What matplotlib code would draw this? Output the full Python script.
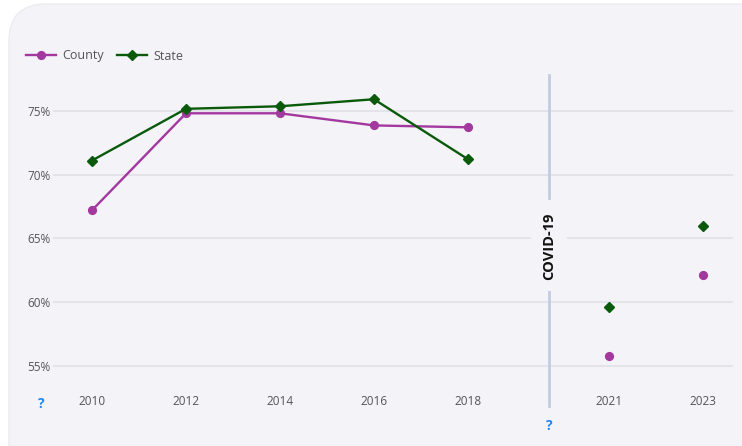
import matplotlib
matplotlib.use("Agg")
import matplotlib.pyplot as plt
from matplotlib.patches import FancyBboxPatch
from matplotlib.lines import Line2D

plt.rcParams['font.family'] = ['Open Sans', 'DejaVu Sans']

# ---- data ----
years = ["2010", "2012", "2014", "2016", "2018", "2021", "2023"]
county = [67.2, 74.8, 74.8, 73.85, 73.7, 55.8, 62.1]
state = [71.1, 75.15, 75.35, 75.9, 71.2, 59.6, 66.0]
n_pre = 5  # number of pre-COVID years (connected by lines)
yticks = [55, 60, 65, 70, 75]
ytick_labels = ["55%", "60%", "65%", "70%", "75%"]
divider_label = "COVID-19"

# ---- layout ----
W, H = 742, 446
fig = plt.figure(figsize=(W / 100, H / 100), dpi=100)
fig.patch.set_facecolor("white")
bg = "#f3f3f8"
card = FancyBboxPatch((9 / W, -0.2), 1.2, (H - 4) / H + 0.2,
                      boxstyle="round,pad=0,rounding_size=0.05",
                      transform=fig.transFigure, facecolor=bg,
                      edgecolor="#ececf0", linewidth=1.0, zorder=-10,
                      mutation_aspect=W / H)
fig.patches.append(card)

ax_l, ax_r, ax_t, ax_b = 53, 733, 75, 378
ax = fig.add_axes([ax_l / W, 1 - ax_b / H, (ax_r - ax_l) / W, (ax_b - ax_t) / H])
ax.set_facecolor("none")

gap = 0.5
xpos = [i if i < n_pre else i + gap for i in range(len(years))]
covid_x = n_pre - 1 + 0.86

county_c = "#a3389f"
state_c = "#0b5a0b"
lw = 1.7
ms_c, ms_s = 5.6, 5.2

ax.plot(xpos[:n_pre], county[:n_pre], color=county_c, lw=lw, marker="o", ms=ms_c, zorder=3)
ax.plot(xpos[:n_pre], state[:n_pre], color=state_c, lw=lw, marker="D", ms=ms_s, zorder=4)
ax.plot(xpos[n_pre:], county[n_pre:], color=county_c, lw=0, marker="o", ms=ms_c, zorder=3)
ax.plot(xpos[n_pre:], state[n_pre:], color=state_c, lw=0, marker="D", ms=ms_s, zorder=4)

ax.set_xlim(-0.415, 6.82)
ax.set_ylim(54.06, 77.8)
ax.set_yticks(yticks)
ax.set_yticklabels(ytick_labels)
ax.set_xticks(xpos)
ax.set_xticklabels(years)
ax.grid(axis="y", color="#e3e3e9", lw=1.5, zorder=0)
ax.set_axisbelow(True)
ax.tick_params(axis="both", length=0, labelsize=8.5, labelcolor="#555555")
ax.tick_params(axis="y", pad=2)
ax.tick_params(axis="x", pad=12)
for s in ax.spines.values():
    s.set_visible(False)

# COVID divider
line_c = "#c3cbe0"
ax.plot([covid_x, covid_x], [77.8, 68.15], color=line_c, lw=2, clip_on=False, zorder=2)
ax.plot([covid_x, covid_x], [61.3, 51.9], color=line_c, lw=2, clip_on=False, zorder=2)
ax.text(covid_x, 64.4, divider_label, rotation=90, ha="center", va="center",
        fontsize=10.5, fontweight="bold", color="#111111", zorder=5,
        bbox=dict(facecolor=bg, edgecolor="none", pad=8))

# question marks
fig.text(41 / W, 1 - 404 / H, "?", color="#1e88f0", fontsize=10, fontweight="bold",
         ha="center", va="center")
fig.text(549 / W, 1 - 426 / H, "?", color="#1e88f0", fontsize=10, fontweight="bold",
         ha="center", va="center")

# legend
handles = [Line2D([], [], color=county_c, lw=lw, marker="o", ms=ms_c),
           Line2D([], [], color=state_c, lw=lw, marker="D", ms=ms_s)]
fig.legend(handles, ["County", "State"], loc="center left",
           bbox_to_anchor=(15 / W, 1 - 56 / H), ncol=2, frameon=False,
           fontsize=9, labelcolor="#555555", handlelength=2.4,
           handletextpad=0.5, columnspacing=1.0)

fig.savefig("out.png", dpi=100, facecolor=fig.get_facecolor())
